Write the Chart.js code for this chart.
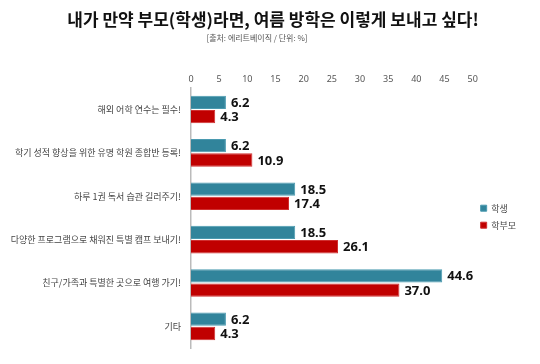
<!DOCTYPE html>
<html>
<head>
<meta charset="utf-8">
<script src="https://cdn.jsdelivr.net/npm/chart.js@4"></script>
<style>
  html, body { margin: 0; padding: 0; background: #fff; }
  #wrap { width: 540px; height: 364px; }
</style>
</head>
<body>
<div id="wrap"><canvas id="chart"></canvas></div>
<script>
const categories = [
    '해외 어학 연수는 필수!',
    '학기 성적 향상을 위한 유명 학원 종합반 등록!',
    '하루 1권 독서 습관 길러주기!',
    '다양한 프로그램으로 채워진 특별 캠프 보내기!',
    '친구/가족과 특별한 곳으로 여행 가기!',
    '기타'
];
const studentValues = [6.2, 6.2, 18.5, 18.5, 44.6, 6.2];
const parentValues = [4.3, 10.9, 17.4, 26.1, 37.0, 4.3];
const xTicks = [0, 5, 10, 15, 20, 25, 30, 35, 40, 45, 50];

const titleText = '내가 만약 부모(학생)라면, 여름 방학은 이렇게 보내고 싶다!';
const sourceText = '[출처: 에리트베이직 / 단위: %]';

// value labels at the end of each bar, plus title and source line
const valueLabels = {
    id: 'valueLabels',
    afterDatasetsDraw(chart) {
        const ctx = chart.ctx;
        ctx.save();
        ctx.font = 'bold 13px "Noto Sans", sans-serif';
        ctx.fillStyle = '#111';
        ctx.textBaseline = 'middle';
        ctx.textAlign = 'left';
        chart.data.datasets.forEach((ds, i) => {
            chart.getDatasetMeta(i).data.forEach((bar, j) => {
                ctx.fillText(ds.data[j].toFixed(1), bar.x + 5, bar.y + 1);
            });
        });
        ctx.textAlign = 'center';
        ctx.font = 'bold 17px "Noto Sans CJK KR", sans-serif';
        ctx.fillText(titleText, 273, 20);
        ctx.font = '8px "Noto Sans CJK KR", sans-serif';
        ctx.fillStyle = '#555';
        ctx.fillText(sourceText, 257, 38);
        ctx.restore();
    }
};

new Chart(document.getElementById('chart'), {
    type: 'bar',
    data: {
        labels: categories,
        datasets: [{
            label: '학생',
            data: studentValues,
            backgroundColor: '#31849B',
            borderColor: '#4a9ab0',
            borderWidth: 1,
            categoryPercentage: 0.66,
            barPercentage: 0.93
        }, {
            label: '학부모',
            data: parentValues,
            backgroundColor: '#C00000',
            borderColor: '#d03030',
            borderWidth: 1,
            categoryPercentage: 0.66,
            barPercentage: 0.93
        }]
    },
    options: {
        indexAxis: 'y',
        responsive: true,
        maintainAspectRatio: false,
        animation: false,
        layout: { padding: { top: 71, bottom: 16, left: 0, right: 14 } },
        plugins: {
            legend: {
                position: 'right',
                title: { display: true, text: '', padding: 0 },
                labels: {
                    boxWidth: 6,
                    boxHeight: 6,
                    padding: 8,
                    color: '#444',
                    font: { family: '"Noto Sans CJK KR", sans-serif', size: 9 }
                }
            },
            tooltip: { enabled: false }
        },
        scales: {
            x: {
                position: 'top',
                min: 0,
                max: 50,
                afterBuildTicks: (scale) => { scale.ticks = xTicks.map(v => ({ value: v })); },
                grid: { display: false, drawTicks: false },
                border: { display: false },
                ticks: {
                    color: '#555',
                    padding: 3,
                    font: { family: '"Noto Sans", sans-serif', size: 9 }
                }
            },
            y: {
                grid: { display: false, drawTicks: false },
                border: { display: true, color: '#bbb', width: 1.5 },
                afterFit: (scale) => { scale.width = 191; },
                ticks: {
                    color: '#444',
                    padding: 10,
                    font: { family: '"Noto Sans CJK KR", sans-serif', size: 9 }
                }
            }
        }
    },
    plugins: [valueLabels]
});
</script>
</body>
</html>
